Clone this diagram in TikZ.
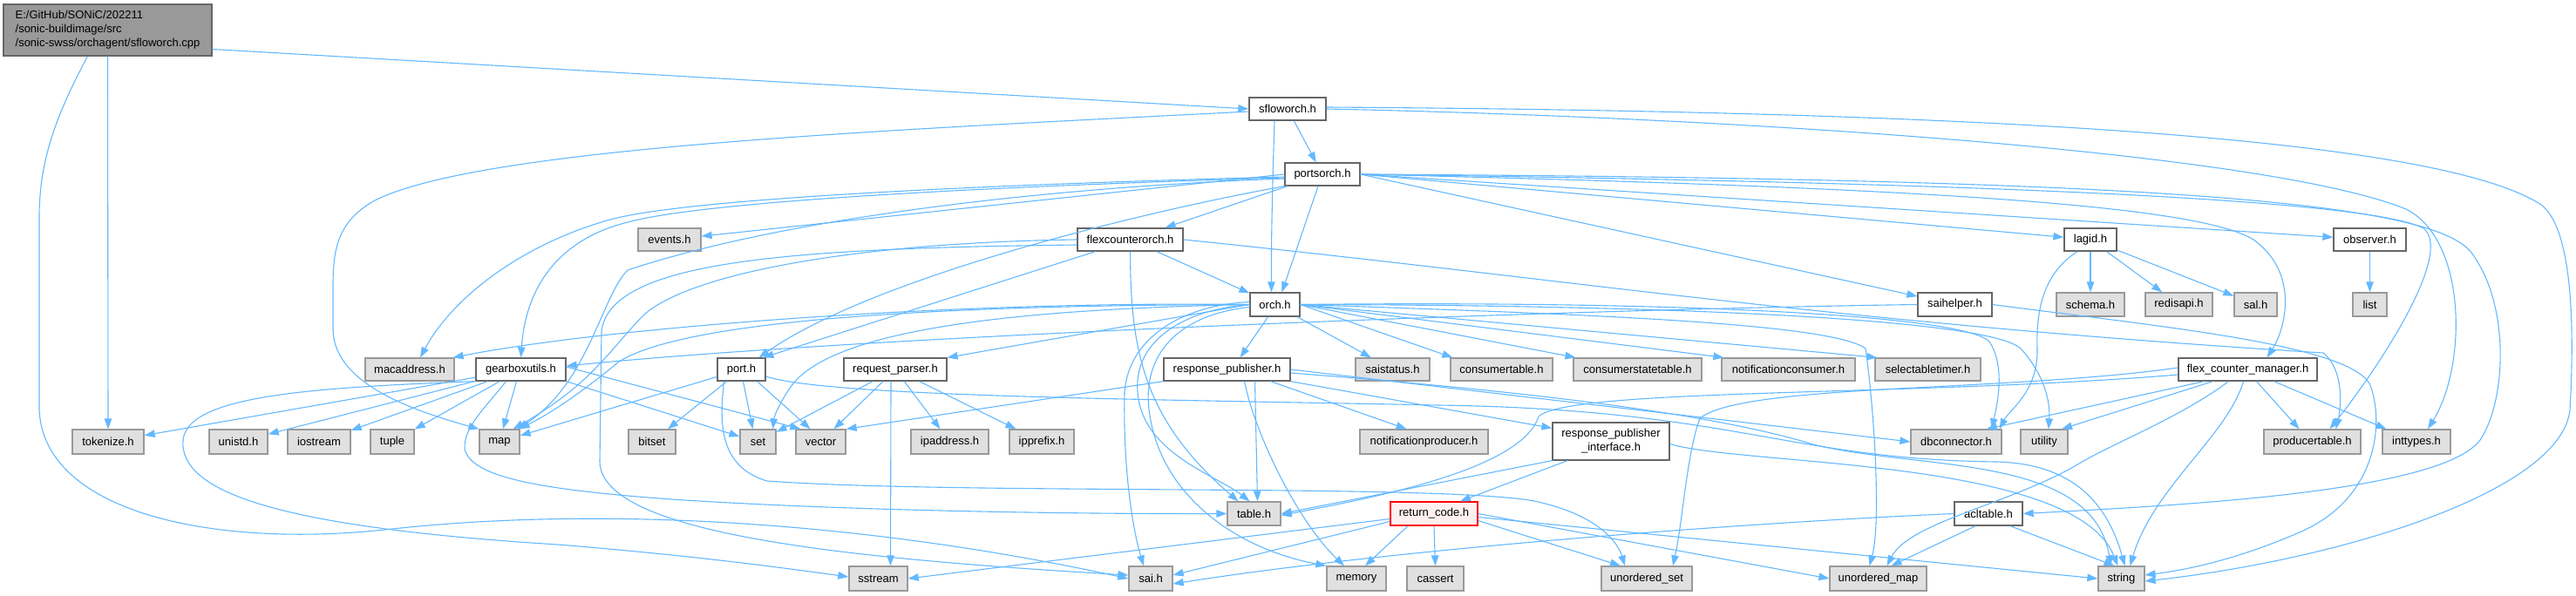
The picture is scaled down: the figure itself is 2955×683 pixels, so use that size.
\documentclass[tikz,border=0pt]{standalone}
\usepackage{fontspec}
\setmainfont{Liberation Sans}
\usetikzlibrary{arrows.meta}
\definecolor{edgec}{RGB}{99,184,255}
\definecolor{boxb}{HTML}{666666}
\definecolor{extf}{HTML}{E0E0E0}
\definecolor{extb}{HTML}{999999}
\definecolor{rootf}{HTML}{999999}
\definecolor{redf}{HTML}{FFF0F0}
\tikzset{
  edge/.style={draw=edgec, line width=1.1pt, -{Triangle[length=12pt,width=8.5pt]}},
  wbox/.style={draw=boxb, line width=1.3pt, fill=white, inner sep=0pt, minimum height=26pt,
     font=\fontsize{13}{16}\selectfont, anchor=center},
  ext/.style={wbox, draw=extb, fill=extf, minimum height=28pt},
}
\begin{document}
\begin{tikzpicture}[x=1pt,y=-1pt]
\useasboundingbox (0,0) rectangle (2955,683);
% ---------------- nodes
\node[wbox, minimum width=239pt, minimum height=59pt, fill=rootf, align=left] (root) at (123.5,34.5) {E:/GitHub/SONiC/202211\\/sonic-buildimage/src\\/sonic-swss/orchagent/sfloworch.cpp};
\node[wbox, minimum width=88pt] (sfloworch) at (1477,125) {sfloworch.h};
\node[wbox, minimum width=86pt] (portsorch) at (1517,200) {portsorch.h};
\node[ext, minimum width=72pt, minimum height=26pt] (events) at (768,275) {events.h};
\node[wbox, minimum width=121pt] (flexco) at (1296.5,275) {flexcounterorch.h};
\node[wbox, minimum width=60pt] (lagid) at (2398,275) {lagid.h};
\node[wbox, minimum width=83pt] (observer) at (2718.5,275) {observer.h};
\node[wbox, minimum width=57pt, minimum height=27pt] (orch) at (1462.5,349.5) {orch.h};
\node[wbox, minimum width=85pt, minimum height=27pt] (saihelper) at (2242.5,349.5) {saihelper.h};
\node[ext, minimum width=78pt, minimum height=27pt] (schema) at (2398,349.5) {schema.h};
\node[ext, minimum width=77pt, minimum height=27pt] (redisapi) at (2499.5,349.5) {redisapi.h};
\node[ext, minimum width=49pt, minimum height=27pt] (sal) at (2587.5,349.5) {sal.h};
\node[ext, minimum width=39pt, minimum height=27pt] (nlist) at (2718.5,349.5) {list};
% row y=424
\node[ext, minimum width=102pt, minimum height=26pt] (macaddr) at (470,424) {macaddress.h};
\node[wbox, minimum width=103pt] (gearbox) at (597.5,424) {gearboxutils.h};
\node[wbox, minimum width=55pt] (nport) at (850.5,424) {port.h};
\node[wbox, minimum width=118pt] (reqparser) at (1027,424) {request\_parser.h};
\node[wbox, minimum width=145pt] (resppub) at (1407.5,424) {response\_publisher.h};
\node[ext, minimum width=85pt, minimum height=26pt] (saistatus) at (1597.5,424) {saistatus.h};
\node[ext, minimum width=117pt, minimum height=26pt] (constable) at (1722.5,424) {consumertable.h};
\node[ext, minimum width=147pt, minimum height=26pt] (consstate) at (1878.5,424) {consumerstatetable.h};
\node[ext, minimum width=153pt, minimum height=26pt] (notifcons) at (2051.5,424) {notificationconsumer.h};
\node[ext, minimum width=121pt, minimum height=26pt] (seltimer) at (2211.5,424) {selectabletimer.h};
\node[wbox, minimum width=159pt] (fcm) at (2578.5,424) {flex\_counter\_manager.h};
% row y=507
\node[ext, minimum width=82pt] (tokenize) at (124,507) {tokenize.h};
\node[ext, minimum width=67pt] (unistd) at (273.5,507) {unistd.h};
\node[ext, minimum width=72pt] (niostream) at (366,507) {iostream};
\node[ext, minimum width=50pt] (ntuple) at (450,507) {tuple};
\node[ext, minimum width=46pt] (nmap) at (573,507) {map};
\node[ext, minimum width=54pt] (nbitset) at (748,507) {bitset};
\node[ext, minimum width=41pt] (nset) at (869.5,507) {set};
\node[ext, minimum width=57pt] (nvector) at (941.5,507) {vector};
\node[ext, minimum width=89pt] (ipaddr) at (1089.5,507) {ipaddress.h};
\node[ext, minimum width=74pt] (ipprefix) at (1195,507) {ipprefix.h};
\node[ext, minimum width=147pt] (notifprod) at (1633.5,507) {notificationproducer.h};
\node[wbox, minimum width=134pt, minimum height=43pt, align=center] (rpi) at (1848,506.5) {response\_publisher\\\_interface.h};
\node[ext, minimum width=104pt] (dbconn) at (2244,507) {dbconnector.h};
\node[ext, minimum width=54pt] (nutility) at (2345,507) {utility};
\node[ext, minimum width=111pt] (prodtable) at (2652.5,507) {producertable.h};
\node[ext, minimum width=78pt] (inttypes) at (2772,507) {inttypes.h};
% row y=589.5
\node[ext, minimum width=61pt, minimum height=27pt] (ntable) at (1438.5,589.5) {table.h};
\node[wbox, draw=red, fill=redf, minimum width=100pt, minimum height=27pt] (retcode) at (1645,589.5) {return\_code.h};
\node[wbox, minimum width=78pt, minimum height=27pt] (acltable) at (2281,589.5) {acltable.h};
% row y=664
\node[ext, minimum width=67pt] (nsstream) at (1007.5,664) {sstream};
\node[ext, minimum width=50pt] (nsai) at (1320,664) {sai.h};
\node[ext, minimum width=68pt] (nmemory) at (1556,664) {memory};
\node[ext, minimum width=65pt] (ncassert) at (1646.5,664) {cassert};
\node[ext, minimum width=104pt] (uset) at (1889,664) {unordered\_set};
\node[ext, minimum width=111pt] (umap) at (2154.5,664) {unordered\_map};
\node[ext, minimum width=53pt] (nstring) at (2433.5,664) {string};
% ---------------- edges
% root
\draw[edge] ([yshift=-22pt]root.east) -- (sfloworch.west);
\draw[edge] (root.south) -- (tokenize.north);
\draw[edge] ([xshift=-23pt]root.south) .. controls (60,140) and (45,190) .. (45,250) -- (45,470) .. controls (50,590) and (250,630) .. (450,607) .. controls (700,580) and (1000,600) .. (nsai.west);
% sfloworch
\draw[edge] (sfloworch) -- (portsorch);
\draw[edge] ([xshift=-15pt]sfloworch.south) .. controls (1460,200) and (1458,280) .. ([xshift=-4pt]orch.north);
\draw[edge] ([yshift=-3pt]sfloworch.west) .. controls (1000,150) and (550,170) .. (430,230) .. controls (385,255) and (382,290) .. (382,330) -- (382,380) .. controls (385,440) and (470,470) .. (nmap.north west);
\draw[edge] (sfloworch.east) .. controls (2000,135) and (2600,175) .. (2760,240) .. controls (2830,275) and (2830,420) .. ([xshift=13pt]inttypes.north);
\draw[edge] ([yshift=2pt]sfloworch.east) .. controls (2300,128) and (2800,160) .. (2915,235) .. controls (2955,265) and (2952,400) .. (2948,470) .. controls (2940,560) and (2700,640) .. ([yshift=-3pt]nstring.east);
% portsorch
\draw[edge] ([xshift=-5pt]portsorch.south) -- ([xshift=8pt]orch.north);
\draw[edge] (portsorch) -- (flexco);
\draw[edge] (portsorch.west) -- (events);
\draw[edge] ([yshift=-3pt]portsorch.west) .. controls (1200,210) and (800,225) .. (700,252) .. controls (600,280) and (520,340) .. ([xshift=12pt]macaddr.north);
\draw[edge] ([yshift=-4pt]portsorch.west) .. controls (1200,212) and (820,228) .. (720,255) .. controls (640,275) and (603,330) .. (gearbox.north);
\draw[edge] ([yshift=-5pt]portsorch.west) .. controls (1200,215) and (900,250) .. (720,310) .. controls (690,340) and (675,440) .. ([xshift=-3pt]nmap.north east);
\draw[edge] (portsorch.south west) .. controls (1300,245) and (1000,320) .. ([xshift=20pt]nport.north);
\draw[edge] (portsorch.east) -- (saihelper);
\draw[edge] (portsorch.east) -- (lagid);
\draw[edge] (portsorch.east) -- (observer);
\draw[edge] (portsorch.east) .. controls (2200,215) and (2520,235) .. (2585,275) .. controls (2640,315) and (2620,380) .. ([xshift=22pt]fcm.north);
\draw[edge] (portsorch.east) .. controls (2300,210) and (2720,230) .. (2780,262) .. controls (2815,290) and (2730,420) .. ([xshift=20pt]prodtable.north);
\draw[edge] (portsorch.east) .. controls (2450,205) and (2790,230) .. (2835,290) .. controls (2880,350) and (2875,460) .. (2845,505) .. controls (2800,565) and (2500,580) .. (acltable.east);
% flexcounterorch
\draw[edge] (flexco) -- (orch);
\draw[edge] ([xshift=-40pt]flexco.south) -- ([xshift=25pt]nport.north);
\draw[edge] (flexco.south) .. controls (1297,400) and (1310,480) .. ([xshift=-18pt]ntable.north);
\draw[edge] (flexco.east) .. controls (1800,320) and (2100,370) .. (2665,405) .. controls (2690,425) and (2685,470) .. ([xshift=27pt]prodtable.north);
\draw[edge] (flexco.west) .. controls (1000,278) and (800,310) .. (740,360) .. controls (700,400) and (680,440) .. ([xshift=-8pt]nmap.north east);
\draw[edge] ([yshift=-6pt]flexco.west) .. controls (900,285) and (700,300) .. (690,380) -- (688,530) .. controls (690,610) and (950,640) .. ([yshift=4pt]nsai.west);
% orch
\draw[edge] (orch.west) .. controls (1100,345) and (700,375) .. ([xshift=-2pt]macaddr.north east);
\draw[edge] (orch.west) .. controls (1100,350) and (790,365) .. (710,415) .. controls (680,440) and (640,470) .. ([xshift=-1pt]nmap.north east);
\draw[edge] (orch.west) .. controls (1150,355) and (960,380) .. (910,440) .. controls (895,460) and (888,478) .. ([xshift=-4pt]nset.north east);
\draw[edge] (orch.west) -- (reqparser.north east);
\draw[edge] ([xshift=-8pt]orch.south) -- ([xshift=15pt]resppub.north);
\draw[edge] ([yshift=3pt]orch.west) .. controls (1360,350) and (1295,385) .. (1290,450) .. controls (1288,540) and (1300,610) .. ([xshift=-8pt]nsai.north);
\draw[edge] (orch.west) .. controls (1360,355) and (1300,390) .. (1305,450) .. controls (1310,520) and (1395,545) .. ([xshift=-5pt]ntable.north);
\draw[edge] ([yshift=-3pt]orch.west) .. controls (1360,360) and (1310,400) .. (1318,470) .. controls (1330,570) and (1420,630) .. (nmemory.north west);
\draw[edge] (orch) -- (saistatus);
\draw[edge] (orch.east) -- ([xshift=3pt]constable.north west);
\draw[edge] (orch.east) -- ([xshift=3pt]consstate.north west);
\draw[edge] (orch.east) -- ([xshift=3pt]notifcons.north west);
\draw[edge] (orch.east) -- ([xshift=3pt]seltimer.north west);
\draw[edge] (orch.east) .. controls (1900,345) and (2250,360) .. (2282,392) .. controls (2300,420) and (2292,460) .. ([xshift=-12pt]dbconn.north east);
\draw[edge] (orch.east) .. controls (1900,350) and (2280,365) .. (2318,400) .. controls (2345,430) and (2352,460) .. ([xshift=5pt]nutility.north);
\draw[edge] (orch.east) .. controls (1800,360) and (2100,370) .. (2140,400) .. controls (2150,470) and (2158,600) .. ([xshift=-10pt]umap.north);
% response_publisher
\draw[edge] (resppub.south west) -- (nvector.north east);
\draw[edge] ([xshift=32pt]resppub.south) -- ([xshift=4pt]ntable.north);
\draw[edge] ([xshift=50pt]resppub.south) -- ([xshift=-20pt]notifprod.north);
\draw[edge] ([xshift=20pt]resppub.south) .. controls (1440,500) and (1490,600) .. ([xshift=-14pt]nmemory.north);
\draw[edge] (resppub.south east) -- ([yshift=-7pt]rpi.north west);
\draw[edge] (resppub.east) -- (dbconn.west);
\draw[edge] ([yshift=-4pt]resppub.east) .. controls (1700,445) and (1950,470) .. (2080,510) .. controls (2200,540) and (2400,520) .. ([xshift=-12pt]nstring.north);
% response_publisher_interface
\draw[edge] (rpi.south west) -- (ntable.east);
\draw[edge] ([xshift=-50pt]rpi.south) -- ([xshift=30pt]retcode.north);
\draw[edge] ([yshift=-3pt]rpi.east) .. controls (2000,535) and (2380,525) .. ([xshift=-4pt]nstring.north);
% return_code
\draw[edge] ([yshift=-6pt]retcode.west) -- (nsstream.east);
\draw[edge] ([yshift=-9pt]retcode.west) -- ([yshift=4pt]nsai.east);
\draw[edge] ([xshift=-30pt]retcode.south) -- ([xshift=10pt]nmemory.north);
\draw[edge] (retcode.south) -- (ncassert.north);
\draw[edge] ([yshift=-8pt]retcode.east) -- ([xshift=-30pt]uset.north);
\draw[edge] (retcode.east) -- (umap.west);
\draw[edge] ([yshift=-4pt]retcode.east) -- (nstring.west);
% acltable
\draw[edge] (acltable.west) .. controls (2000,600) and (1600,630) .. ([yshift=-6pt]nsai.east);
\draw[edge] ([xshift=-15pt]acltable.south) -- ([xshift=15pt]umap.north);
\draw[edge] ([xshift=25pt]acltable.south) -- ([xshift=-8pt]nstring.north);
% gearboxutils
\draw[edge] (gearbox) -- (tokenize);
\draw[edge] (gearbox) -- (unistd);
\draw[edge] (gearbox) -- (niostream);
\draw[edge] (gearbox) -- (ntuple);
\draw[edge] ([xshift=-5pt]gearbox.south) -- ([xshift=4pt]nmap.north);
\draw[edge] (gearbox.south east) -- ([yshift=6pt]nset.west);
\draw[edge] ([yshift=3pt]gearbox.east) -- ([xshift=6pt]nvector.north west);
\draw[edge] (gearbox.south west) .. controls (350,445) and (215,455) .. (210,505) .. controls (205,565) and (320,605) .. (640,625) .. controls (800,638) and (900,652) .. ([yshift=2pt]nsstream.west);
\draw[edge] ([xshift=-17pt]gearbox.south) .. controls (555,470) and (532,490) .. (533,515) .. controls (540,548) and (620,562) .. (770,573) .. controls (950,585) and (1200,590) .. (ntable.west);
% port
\draw[edge] (nport) -- (nbitset);
\draw[edge] ([xshift=2pt]nport.south) -- ([xshift=-6pt]nset.north);
\draw[edge] ([xshift=18pt]nport.south) -- ([xshift=-12pt]nvector.north);
\draw[edge] (nport) -- (nmap);
\draw[edge] ([xshift=-20pt]nport.south) .. controls (826,480) and (822,535) .. (880,552) .. controls (1100,568) and (1650,555) .. (1760,575) .. controls (1830,590) and (1855,620) .. ([xshift=-25pt]uset.north);
\draw[edge] ([yshift=-8pt]nport.east) .. controls (950,455) and (1300,458) .. (1650,465) .. controls (1990,470) and (2050,527) .. (2290,530) .. controls (2380,532) and (2418,580) .. ([xshift=4pt]nstring.north);
% request_parser
\draw[edge] (reqparser) -- (nset);
\draw[edge] (reqparser) -- (nvector);
\draw[edge] (reqparser) -- (ipaddr);
\draw[edge] (reqparser) -- (ipprefix);
\draw[edge] ([xshift=-5pt]reqparser.south) -- ([xshift=14pt]nsstream.north);
% saihelper
\draw[edge] (saihelper.west) .. controls (1800,355) and (1000,385) .. ([yshift=4pt]gearbox.east);
\draw[edge] (saihelper.east) .. controls (2480,375) and (2690,395) .. (2718,440) .. controls (2735,480) and (2730,570) .. (2640,610) .. controls (2560,645) and (2500,655) .. ([yshift=4pt]nstring.east);
% lagid
\draw[edge] (lagid) -- (schema);
\draw[edge] (lagid) -- (redisapi);
\draw[edge] (lagid) -- (sal);
\draw[edge] ([xshift=-15pt]lagid.south) .. controls (2350,310) and (2335,345) .. (2337,400) .. controls (2338,450) and (2305,470) .. ([xshift=-3pt]dbconn.north east);
% observer
\draw[edge] (observer) -- (nlist);
% flex_counter_manager
\draw[edge] ([yshift=-6pt]fcm.west) .. controls (2200,455) and (1800,445) .. (1765,478) .. controls (1745,540) and (1570,572) .. ([yshift=-2pt]ntable.east);
\draw[edge] ([yshift=2pt]fcm.west) .. controls (2300,450) and (2000,440) .. (1950,480) .. controls (1935,520) and (1930,600) .. ([xshift=30pt]uset.north);
\draw[edge] ([xshift=-50pt]fcm.south) -- ([xshift=-18pt]dbconn.north east);
\draw[edge] ([xshift=-40pt]fcm.south) -- ([xshift=20pt]nutility.north);
\draw[edge] ([xshift=-22pt]fcm.south) .. controls (2500,480) and (2420,510) .. (2380,535) .. controls (2300,580) and (2190,600) .. ([xshift=10pt]umap.north);
\draw[edge] ([xshift=-5pt]fcm.south) .. controls (2555,500) and (2470,560) .. ([xshift=10pt]nstring.north);
\draw[edge] ([xshift=10pt]fcm.south) -- ([xshift=-15pt]prodtable.north);
\draw[edge] ([xshift=30pt]fcm.south) -- ([xshift=5pt]inttypes.north west);
\end{tikzpicture}
\end{document}
